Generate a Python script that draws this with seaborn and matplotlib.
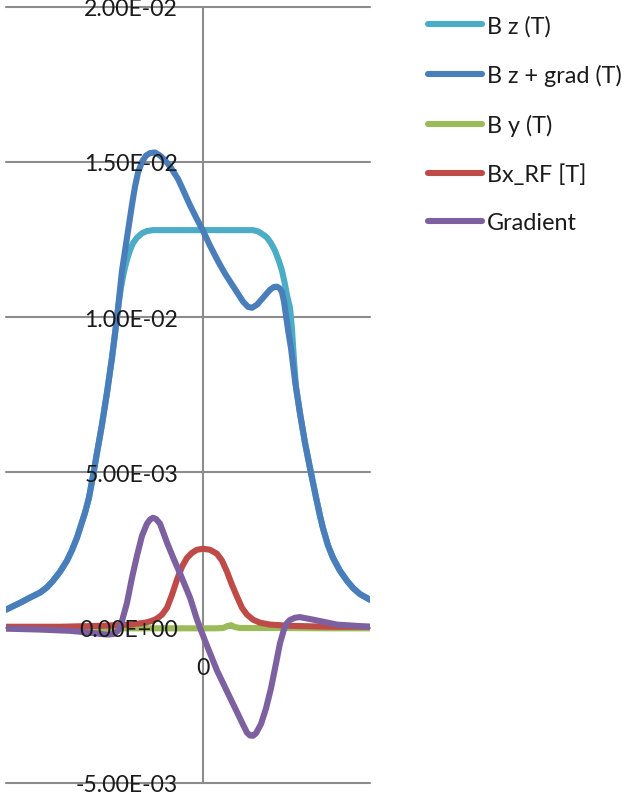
import numpy as np
import pandas as pd
import matplotlib
matplotlib.use("Agg")
import matplotlib.pyplot as plt
import seaborn as sns

# ---------------- data ----------------
series_names = ["B z (T)", "B z + grad (T)", "B y (T)", "Bx_RF [T]", "Gradient"]
series_colors = ["#4BACC6", "#4A7EBB", "#9BBB59", "#BE4B48", "#7D60A0"]

# position along axis (mm) and field values (mT)
bz_x = [-59.1, -54.9, -51.9, -48.9, -46.8, -45.0, -42.9, -40.8, -39.3, -37.8,
        -36.6, -35.4, -34.2, -33.0, -31.8, -30.3, -28.8, -27.3, -25.8,
        -25.2, -24.6, -24.0, -23.4, -22.8, -21.9, -21.0, -19.8, -18.3, -16.8,
        -15.0, 0.0, 15.0, 16.5, 18.0, 19.2, 20.4, 21.6, 22.8, 23.7,
        24.6, 25.2, 26.1, 26.7, 27.3, 27.9,
        29.1, 30.6, 32.4, 33.9, 35.1, 36.0, 37.5, 39.0, 41.1, 43.2, 45.0, 47.1, 50.1]
bz_mT = [0.58, 0.80, 0.97, 1.13, 1.30, 1.51, 1.80, 2.16, 2.50, 2.90,
         3.30, 3.70, 4.19, 4.89, 5.63, 6.54, 7.57, 8.69, 9.98,
         10.5, 10.95, 11.3, 11.6, 11.85, 12.15, 12.38, 12.56, 12.7, 12.77,
         12.8, 12.8, 12.8, 12.76, 12.66, 12.56, 12.38, 12.14, 11.8, 11.49,
         11.05, 10.7, 10.3, 9.6, 8.6, 7.75,
         6.9, 5.95, 4.98, 4.2, 3.6, 3.2, 2.65, 2.25, 1.83, 1.51, 1.28, 1.08, 0.90]

bzg_x = [-59.1, -54.9, -51.9, -48.9, -46.8, -45.0, -42.9, -40.8, -39.3, -37.8,
         -36.6, -35.4, -34.2, -33.0, -31.8, -30.3, -28.8, -27.3, -25.8, -24.3,
         -22.8, -21.3, -20.4, -19.5, -18.3, -17.1, -15.9, -14.4, -12.9, -11.4,
         -9.9, -7.5, -6.0, -3.9, -1.8, 0.0, 2.1, 4.5, 6.6, 9.0,
         10.5, 12.0, 13.5, 14.7, 16.2, 18.0, 20.1, 21.3, 22.2, 23.1,
         23.7, 24.3, 24.9, 25.5, 26.4, 27.6, 29.1, 30.6, 32.4, 33.9,
         35.1, 36.0, 37.5, 39.0, 41.1, 43.2, 45.0, 47.1, 50.1]
bzg_mT = [0.58, 0.80, 0.97, 1.13, 1.30, 1.51, 1.80, 2.16, 2.50, 2.90,
          3.30, 3.70, 4.19, 4.89, 5.63, 6.54, 7.57, 8.69, 9.98, 11.49,
          12.56, 13.62, 14.2, 14.65, 15.0, 15.2, 15.28, 15.3, 15.2, 15.05,
          14.85, 14.45, 14.1, 13.6, 13.15, 12.78, 12.3, 11.8, 11.4, 11.0,
          10.75, 10.5, 10.33, 10.3, 10.4, 10.62, 10.88, 10.97, 10.98, 10.92,
          10.8, 10.5, 10.05, 9.6, 9.0, 7.95, 6.9, 5.95, 4.98, 4.2,
          3.6, 3.2, 2.65, 2.25, 1.83, 1.51, 1.28, 1.08, 0.90]

by_x = [-59.1, -42.9, -24.9, -6.9, 3.6, 6.0, 7.5, 8.4, 9.6, 11.1, 23.1, 38.1, 50.1]
by_mT = [-0.02, -0.02, -0.02, -0.02, -0.02, -0.01, 0.06, 0.08, 0.02, -0.01, -0.01, -0.02, -0.02]

bxrf_x = [-59.1, -42.9, -30.9, -21.9, -17.4, -15.9, -14.4, -13.5, -12.3, -10.8,
          -9.3, -7.8, -6.3, -4.8, -3.3, -1.8, 0.0, 2.1, 4.2, 5.7,
          7.2, 8.7, 10.2, 11.7, 13.2, 15.0, 17.1, 20.1, 26.1, 38.1, 50.1]
bxrf_mT = [0.03, 0.03, 0.06, 0.10, 0.16, 0.20, 0.26, 0.32, 0.42, 0.64,
           1.06, 1.55, 1.96, 2.25, 2.41, 2.51, 2.54, 2.51, 2.38, 2.16,
           1.80, 1.38, 1.00, 0.64, 0.42, 0.26, 0.16, 0.10, 0.06, 0.03, 0.03]

grad_x = [-59.1, -48.9, -39.9, -33.9, -30.9, -28.5, -26.7, -25.5, -24.6, -23.7,
          -22.8, -21.3, -19.8, -18.3, -16.8, -15.9, -15.0, -14.1, -12.9, -10.8,
          -8.7, -6.9, -3.9, -1.8, 0.6, 4.2, 8.1, 12.0, 13.2, 14.1,
          15.0, 15.9, 17.4, 18.9, 20.4, 21.9, 23.1, 24.3, 25.2, 26.1,
          27.6, 29.1, 33.0, 40.2, 50.1]
grad_mT = [-0.03, -0.06, -0.10, -0.16, -0.20, -0.22, -0.20, -0.10, 0.10, 0.45,
           0.80, 1.61, 2.32, 2.96, 3.35, 3.48, 3.54, 3.50, 3.35, 2.74,
           2.19, 1.75, 0.97, 0.26, -0.42, -1.38, -2.25, -3.12, -3.38, -3.47,
           -3.48, -3.40, -3.10, -2.60, -1.95, -1.15, -0.50, -0.05, 0.15, 0.25,
           0.32, 0.34, 0.26, 0.10, 0.03]

y_ticks = [-5e-3, 0.0, 5e-3, 1e-2, 1.5e-2, 2e-2]
y_tick_labels = ["-5.00E-03", "0.00E+00", "5.00E-03", "1.00E-02", "1.50E-02", "2.00E-02"]
x_ticks = [0.0]
x_tick_labels = ["0"]

# ---------------- build table ----------------
frames = []
for name, xs, ys in zip(series_names,
                        [bz_x, bzg_x, by_x, bxrf_x, grad_x],
                        [bz_mT, bzg_mT, by_mT, bxrf_mT, grad_mT]):
    frames.append(pd.DataFrame({"x": xs, "B": np.asarray(ys) * 1e-3, "series": name}))
df = pd.concat(frames, ignore_index=True)

# ---------------- style ----------------
sns.set_theme(style="white")
plt.rcParams["font.family"] = ["Lato", "DejaVu Sans"]

W, H = 626, 804
FS_TICK = 16.6
FS_LEG = 16.8
LW = 4.4
fig = plt.figure(figsize=(W / 100, H / 100), dpi=100)
fig.patch.set_facecolor("white")
ax = fig.add_axes([6 / W, 1 - 784 / H, 364 / W, (784 - 7.5) / H])

grid_color = "#8c8c8c"
for yt in y_ticks:
    ax.axhline(yt, color=grid_color, lw=1.5, zorder=0.5, clip_on=False)

sns.lineplot(data=df, x="x", y="B", hue="series", hue_order=series_names,
             palette=series_colors, sort=False, estimator=None,
             linewidth=LW, ax=ax)

for ln in ax.lines:
    ln.set_solid_capstyle("round")
    ln.set_solid_joinstyle("round")

ax.set_xlim(-59.1, 50.1)
ax.set_ylim(-5e-3, 2e-2)
ax.set_xlabel("")
ax.set_ylabel("")

for s in ["top", "right"]:
    ax.spines[s].set_visible(False)
ax.spines["left"].set_position(("data", 0))
ax.spines["left"].set_color(grid_color)
ax.spines["left"].set_linewidth(1.5)
ax.spines["left"].set_zorder(0.5)
ax.spines["bottom"].set_position(("data", 0))
ax.spines["bottom"].set_color("none")

ax.set_axisbelow(False)
ax.set_yticks(y_ticks, y_tick_labels)
ax.set_xticks(x_ticks, x_tick_labels)
ax.tick_params(axis="y", length=0, pad=18, labelsize=FS_TICK, labelcolor="#1a1a1a")
ax.tick_params(axis="x", length=0, pad=21, labelsize=FS_TICK, labelcolor="#1a1a1a")

handles, labels = ax.get_legend_handles_labels()
if ax.get_legend() is not None:
    ax.get_legend().remove()
leg = fig.legend(handles, labels, loc="upper left",
                 bbox_to_anchor=(428 / W, 1 - 16 / H), bbox_transform=fig.transFigure,
                 frameon=False, fontsize=FS_LEG, handlelength=2.3, handletextpad=0.22,
                 labelspacing=1.18, borderpad=0, borderaxespad=0)
for h in leg.legend_handles:
    h.set_linewidth(LW)
    h.set_solid_capstyle("round")
for t in leg.get_texts():
    t.set_color("#1a1a1a")

fig.savefig("out.png", dpi=100)
